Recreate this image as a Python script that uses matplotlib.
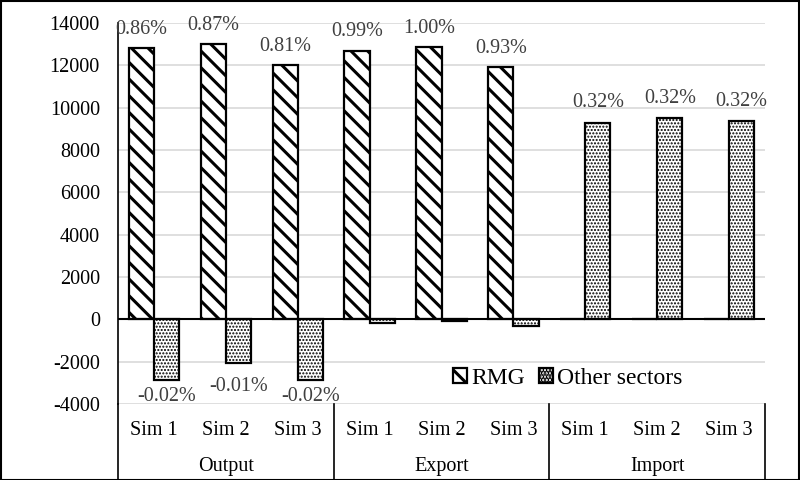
import matplotlib.pyplot as plt
import numpy as np
from matplotlib.patches import Rectangle
from matplotlib.lines import Line2D

plt.rcParams['font.family'] = ['Liberation Serif', 'DejaVu Serif']
plt.rcParams['hatch.linewidth'] = 2.2
plt.rcParams['axes.unicode_minus'] = False

groups = ['Output', 'Export', 'Import']
sims = ['Sim 1', 'Sim 2', 'Sim 3']
rmg = [12800, 13000, 12000, 12700, 12850, 11900, 15, 15, 15]
other = [-2850, -2050, -2850, -150, -100, -300, 9300, 9500, 9350]
rmg_labels = ['0.86%', '0.87%', '0.81%', '0.99%', '1.00%', '0.93%', '', '', '']
other_labels = ['-0.02%', '-0.01%', '-0.02%', '', '', '', '0.32%', '0.32%', '0.32%']

fig = plt.figure(figsize=(8, 4.8), dpi=100)
ax = fig.add_axes([0.1475, 0.1583, 0.8088, 0.7937])

x = np.arange(len(rmg))
w = 0.35
b1 = ax.bar(x - w / 2, rmg, w, color='white', edgecolor='black', linewidth=1.6,
            hatch='\\\\', label='RMG', zorder=3)
b2 = ax.bar(x + w / 2, other, w, color='white', edgecolor='black', linewidth=1.6,
            hatch='.....', label='Other sectors', zorder=3)
for p in b2.patches:
    try:
        p.set_hatch_linewidth(1.0)
    except AttributeError:
        pass

fs = 14.5
for i in range(len(x)):
    if rmg_labels[i]:
        ax.text(x[i] - w / 2, rmg[i] + 900, rmg_labels[i], ha='center', va='center',
                fontsize=fs, color='#404040')
    if other_labels[i]:
        if other[i] < 0:
            ax.text(x[i] + w / 2, max(other[i] - 1100, -3650), other_labels[i],
                    ha='center', va='center', fontsize=fs, color='#404040')
        else:
            ax.text(x[i] + w / 2, other[i] + 950, other_labels[i], ha='center',
                    va='center', fontsize=fs, color='#404040')

ax.set_xlim(-0.5, len(x) - 0.5)
ax.set_ylim(-4000, 14000)
ax.set_yticks(np.arange(-4000, 14001, 2000))
ax.tick_params(axis='y', length=0, labelsize=fs, pad=13)
ax.set_xticks([])
ax.yaxis.grid(True, color='#d9d9d9', linewidth=1.2, zorder=0)
ax.set_axisbelow(True)
for s in ['top', 'right', 'bottom']:
    ax.spines[s].set_visible(False)
ax.spines['left'].set_linewidth(1.2)
ax.axhline(0, color='black', linewidth=1.5, zorder=4)

# category axis below the plot
trans = ax.get_xaxis_transform()
for i in range(len(x)):
    ax.text(x[i], -0.07, sims[i % 3], transform=trans, ha='center', va='center',
            fontsize=fs)
for g in range(3):
    ax.text(3 * g + 1, -0.165, groups[g], transform=trans, ha='center', va='center',
            fontsize=fs)
for sep in [-0.5, 2.5, 5.5, 8.5]:
    ax.add_line(Line2D([sep, sep], [0, -0.22], transform=trans, color='black',
                       linewidth=1.2, clip_on=False))

ax.legend(loc='center left', bbox_to_anchor=(0.518, 0.068), ncol=2, frameon=False,
          fontsize=17, handlelength=0.6, handleheight=0.6, handletextpad=0.15,
          columnspacing=0.6, borderpad=0, borderaxespad=0)

fig.add_artist(Rectangle((0.001, 0.001), 0.998, 0.997, transform=fig.transFigure,
                         fill=False, edgecolor='black', linewidth=1.5))

fig.savefig('out.png', dpi=100)
